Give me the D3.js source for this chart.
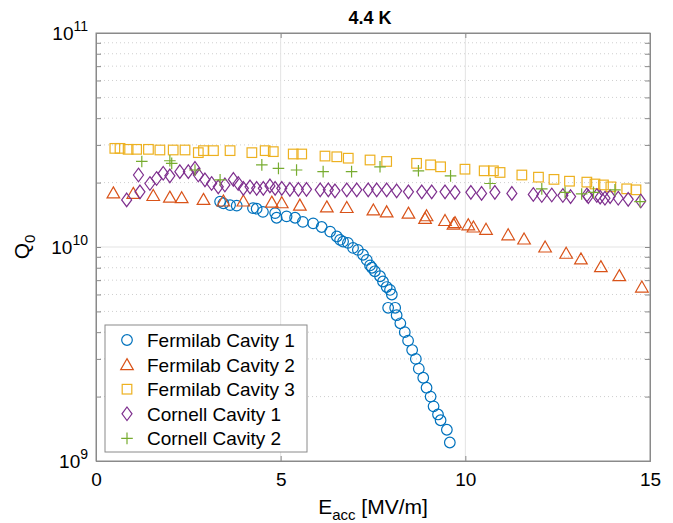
<!DOCTYPE html>
<html>
<head>
<meta charset="utf-8">
<script src="https://cdn.jsdelivr.net/npm/d3@7"></script>
<style>
  body { margin: 0; background: #fff; }
  svg text { font-family: "Liberation Sans", Arial, sans-serif; fill: #000; }
</style>
</head>
<body>
<script>
// Q0 vs Eacc at 4.4 K
var fnal1E = [3.36, 3.45, 3.63, 3.81, 4.25, 4.35, 4.52, 4.85, 4.89, 5.16, 5.39, 5.60, 5.88, 6.11, 6.34, 6.52, 6.61, 6.69, 6.82, 6.96, 7.09, 7.23, 7.33, 7.42, 7.47, 7.55, 7.69, 7.77, 7.87, 7.96, 8.01, 7.91, 8.10, 8.14, 8.24, 8.36, 8.45, 8.56, 8.66, 8.74, 8.86, 8.95, 9.06, 9.14, 9.26, 9.33, 9.50, 9.58];
var fnal1Q = [1.63e10, 1.60e10, 1.57e10, 1.56e10, 1.52e10, 1.51e10, 1.46e10, 1.44e10, 1.37e10, 1.39e10, 1.37e10, 1.31e10, 1.29e10, 1.24e10, 1.18e10, 1.12e10, 1.08e10, 1.06e10, 1.045e10, 9.9e9, 9.7e9, 9.2e9, 8.7e9, 8.2e9, 8.0e9, 7.7e9, 7.3e9, 6.9e9, 6.5e9, 6.3e9, 6.0e9, 5.2e9, 5.2e9, 4.8e9, 4.4e9, 4.0e9, 3.65e9, 3.3e9, 3.0e9, 2.7e9, 2.45e9, 2.2e9, 2.0e9, 1.8e9, 1.65e9, 1.55e9, 1.40e9, 1.22e9];

var fnal2E = [0.47, 1.01, 1.55, 2.00, 2.32, 2.91, 3.45, 3.99, 4.76, 5.03, 5.52, 6.25, 6.79, 7.51, 7.87, 8.46, 8.95, 8.91, 9.45, 9.72, 9.68, 10.08, 10.22, 10.56, 11.16, 11.59, 12.16, 12.73, 13.13, 13.67, 14.17, 14.78];
var fnal2Q = [1.79e10, 1.78e10, 1.74e10, 1.71e10, 1.70e10, 1.67e10, 1.64e10, 1.64e10, 1.62e10, 1.61e10, 1.57e10, 1.54e10, 1.53e10, 1.49e10, 1.46e10, 1.44e10, 1.40e10, 1.36e10, 1.33e10, 1.30e10, 1.28e10, 1.27e10, 1.24e10, 1.21e10, 1.14e10, 1.09e10, 1.00e10, 9.35e9, 8.8e9, 8.1e9, 7.35e9, 6.5e9];

var fnal3E = [0.51, 0.65, 0.87, 1.10, 1.42, 1.73, 2.09, 2.41, 2.77, 2.91, 3.18, 3.63, 4.22, 4.58, 4.80, 5.34, 5.57, 6.20, 6.52, 6.83, 7.42, 7.87, 8.68, 9.06, 9.33, 9.99, 10.51, 10.76, 10.94, 11.53, 11.98, 12.40, 12.82, 13.29, 13.51, 13.74, 13.94, 14.37, 14.62];
var fnal3Q = [2.89e10, 2.89e10, 2.86e10, 2.86e10, 2.86e10, 2.84e10, 2.84e10, 2.84e10, 2.76e10, 2.82e10, 2.82e10, 2.82e10, 2.76e10, 2.82e10, 2.79e10, 2.72e10, 2.72e10, 2.66e10, 2.64e10, 2.60e10, 2.55e10, 2.51e10, 2.46e10, 2.42e10, 2.37e10, 2.31e10, 2.27e10, 2.27e10, 2.23e10, 2.17e10, 2.12e10, 2.07e10, 2.03e10, 2.01e10, 1.97e10, 1.95e10, 1.91e10, 1.87e10, 1.85e10];

var corn1E = [0.83, 1.19, 1.15, 1.46, 1.64, 1.82, 2.00, 2.27, 2.50, 2.68, 2.77, 2.95, 3.13, 3.31, 3.49, 3.72, 3.85, 3.99, 4.17, 4.35, 4.53, 4.71, 4.85, 5.03, 5.25, 5.48, 5.70, 6.07, 6.29, 6.47, 6.79, 7.06, 7.37, 7.60, 7.87, 8.14, 8.46, 8.82, 9.09, 9.45, 9.72, 10.15, 10.44, 10.80, 11.26, 11.84, 12.07, 12.34, 12.64, 12.85, 13.29, 13.33, 13.56, 13.65, 13.78, 13.92, 14.14, 14.41, 14.75];
var corn1Q = [1.66e10, 1.81e10, 2.17e10, 1.98e10, 2.09e10, 2.21e10, 2.15e10, 2.25e10, 2.25e10, 2.33e10, 2.17e10, 2.06e10, 1.98e10, 1.91e10, 1.95e10, 2.07e10, 1.98e10, 1.88e10, 1.91e10, 1.88e10, 1.88e10, 1.93e10, 1.88e10, 1.88e10, 1.86e10, 1.86e10, 1.86e10, 1.85e10, 1.85e10, 1.83e10, 1.85e10, 1.85e10, 1.85e10, 1.85e10, 1.85e10, 1.83e10, 1.81e10, 1.81e10, 1.81e10, 1.81e10, 1.80e10, 1.80e10, 1.78e10, 1.80e10, 1.78e10, 1.76e10, 1.74e10, 1.75e10, 1.74e10, 1.72e10, 1.75e10, 1.72e10, 1.74e10, 1.71e10, 1.69e10, 1.72e10, 1.69e10, 1.67e10, 1.64e10];

var corn2E = [1.24, 2.00, 2.05, 2.68, 3.36, 4.49, 4.94, 5.43, 6.15, 6.92, 7.69, 8.73, 9.60, 10.67, 12.07, 12.70, 13.15, 13.47, 14.05, 14.73];
var corn2Q = [2.51e10, 2.53e10, 2.46e10, 2.29e10, 2.06e10, 2.42e10, 2.33e10, 2.29e10, 2.25e10, 2.25e10, 2.37e10, 2.27e10, 2.15e10, 1.98e10, 1.87e10, 1.80e10, 1.77e10, 1.80e10, 1.85e10, 1.63e10];

var seriesNames = ["Fermilab Cavity 1", "Fermilab Cavity 2", "Fermilab Cavity 3", "Cornell Cavity 1", "Cornell Cavity 2"];
var xTicks = [0, 5, 10, 15];
var yTicks = [9, 10, 11];

var series = [
  { name: seriesNames[0], e: fnal1E, q: fnal1Q, color: "#0072BD", shape: "circle" },
  { name: seriesNames[1], e: fnal2E, q: fnal2Q, color: "#D95319", shape: "triangle" },
  { name: seriesNames[2], e: fnal3E, q: fnal3Q, color: "#EDB120", shape: "square" },
  { name: seriesNames[3], e: corn1E, q: corn1Q, color: "#7E2F8E", shape: "diamond" },
  { name: seriesNames[4], e: corn2E, q: corn2Q, color: "#77AC30", shape: "plus" }
];

var margin = { top: 33, right: 23, bottom: 62, left: 96 },
    width = 673 - margin.left - margin.right,
    height = 523 - margin.top - margin.bottom;

var svg = d3.select("body").append("svg")
    .attr("width", 673)
    .attr("height", 523);

var g = svg.append("g")
    .attr("transform", "translate(" + margin.left + "," + margin.top + ")");

var x = d3.scaleLinear().domain([0, 15]).range([0, width]);
var y = d3.scaleLog().domain([1e9, 1e11]).range([height, 0]);

// minor grid (dotted)
var minors = [];
[1e9, 1e10].forEach(function(base) {
  for (var k = 2; k <= 9; k++) minors.push(base * k);
});
g.selectAll(".minor").data(minors).enter().append("line")
  .attr("x1", 0).attr("x2", width)
  .attr("y1", function(d) { return y(d); }).attr("y2", function(d) { return y(d); })
  .attr("stroke", "#cfcfcf").attr("stroke-width", 1)
  .attr("stroke-dasharray", "1,3");

// major grid
g.selectAll(".vgrid").data(xTicks.slice(1, 3)).enter().append("line")
  .attr("x1", function(d) { return x(d); }).attr("x2", function(d) { return x(d); })
  .attr("y1", 0).attr("y2", height)
  .attr("stroke", "#e3e3e3");
g.append("line")
  .attr("x1", 0).attr("x2", width)
  .attr("y1", y(1e10)).attr("y2", y(1e10))
  .attr("stroke", "#e3e3e3");

// axes (ticks inside)
var xAxis = g.append("g").attr("transform", "translate(0," + height + ")")
  .call(d3.axisBottom(x).tickValues(xTicks).tickSize(-5).tickPadding(12).tickFormat(d3.format("d")));
xAxis.selectAll("text").attr("font-size", 19).style("font-family", "Liberation Sans, Arial, sans-serif");

var allY = minors.concat([1e9, 1e10, 1e11]);
g.append("g")
  .call(d3.axisLeft(y).tickValues(allY).tickSize(-5).tickFormat(""));
g.append("g").attr("transform", "translate(" + width + ",0)")
  .call(d3.axisRight(y).tickValues(allY).tickSize(-5).tickFormat(""));
g.append("g")
  .call(d3.axisTop(x).tickValues(xTicks).tickSize(-5).tickFormat(""));

g.selectAll(".domain").attr("stroke", "#8a8a8a");
g.selectAll(".tick line").attr("stroke", "#8a8a8a");

// y tick labels 10^n
yTicks.forEach(function(p) {
  var t = g.append("text")
    .attr("x", -8)
    .attr("y", y(Math.pow(10, p)) + 7)
    .attr("text-anchor", "end")
    .attr("font-size", 19);
  t.append("tspan").text("10");
  t.append("tspan").attr("dy", -9).attr("font-size", 14).text(p);
});

// box
g.append("rect").attr("width", width).attr("height", height)
  .attr("fill", "none").attr("stroke", "#8a8a8a");

// markers
function drawMarker(sel, shape, color) {
  if (shape === "circle") {
    sel.append("circle").attr("r", 5.3);
  } else if (shape === "triangle") {
    sel.append("path").attr("d", "M0,-6L6.3,5L-6.3,5Z");
  } else if (shape === "square") {
    sel.append("rect").attr("x", -4.8).attr("y", -4.8).attr("width", 9.6).attr("height", 9.6);
  } else if (shape === "diamond") {
    sel.append("path").attr("d", "M0,-6.8L5,0L0,6.8L-5,0Z");
  } else {
    sel.append("path").attr("d", "M-5.8,0L5.8,0M0,-5.8L0,5.8");
  }
  sel.selectAll("circle,path,rect")
    .attr("fill", "none").attr("stroke", color).attr("stroke-width", 1.2);
}

var plot = g.append("g");
series.forEach(function(s) {
  var pts = s.e.map(function(e, i) { return { e: e, q: s.q[i] }; });
  plot.selectAll(".pt-" + s.shape).data(pts).enter().append("g")
    .attr("class", "pt-" + s.shape)
    .attr("transform", function(d) { return "translate(" + x(d.e) + "," + y(d.q) + ")"; })
    .each(function() { drawMarker(d3.select(this), s.shape, s.color); });
});

// legend
var legend = svg.append("g").attr("transform", "translate(105,325)");
legend.append("rect").attr("width", 202).attr("height", 127)
  .attr("fill", "#fff").attr("stroke", "#8a8a8a");
series.forEach(function(s, i) {
  var row = legend.append("g").attr("transform", "translate(22," + (15 + i * 24.6) + ")");
  drawMarker(row, s.shape, s.color);
  row.append("text").attr("x", 20).attr("y", 7).attr("font-size", 19).text(s.name);
});

// title and labels
svg.append("text").attr("x", margin.left + width / 2 - 3).attr("y", 24)
  .attr("text-anchor", "middle").attr("font-size", 18).attr("font-weight", "bold")
  .text("4.4 K");

var xl = svg.append("text").attr("x", margin.left + width / 2).attr("y", 514)
  .attr("text-anchor", "middle").attr("font-size", 21);
xl.append("tspan").text("E");
xl.append("tspan").attr("dy", 6).attr("font-size", 15).text("acc");
xl.append("tspan").attr("dy", -6).text(" [MV/m]");

var yl = svg.append("text")
  .attr("transform", "translate(29," + (margin.top + height / 2) + ") rotate(-90)")
  .attr("text-anchor", "middle").attr("font-size", 21);
yl.append("tspan").text("Q");
yl.append("tspan").attr("dy", 6).attr("font-size", 15).text("0");
</script>
</body>
</html>
